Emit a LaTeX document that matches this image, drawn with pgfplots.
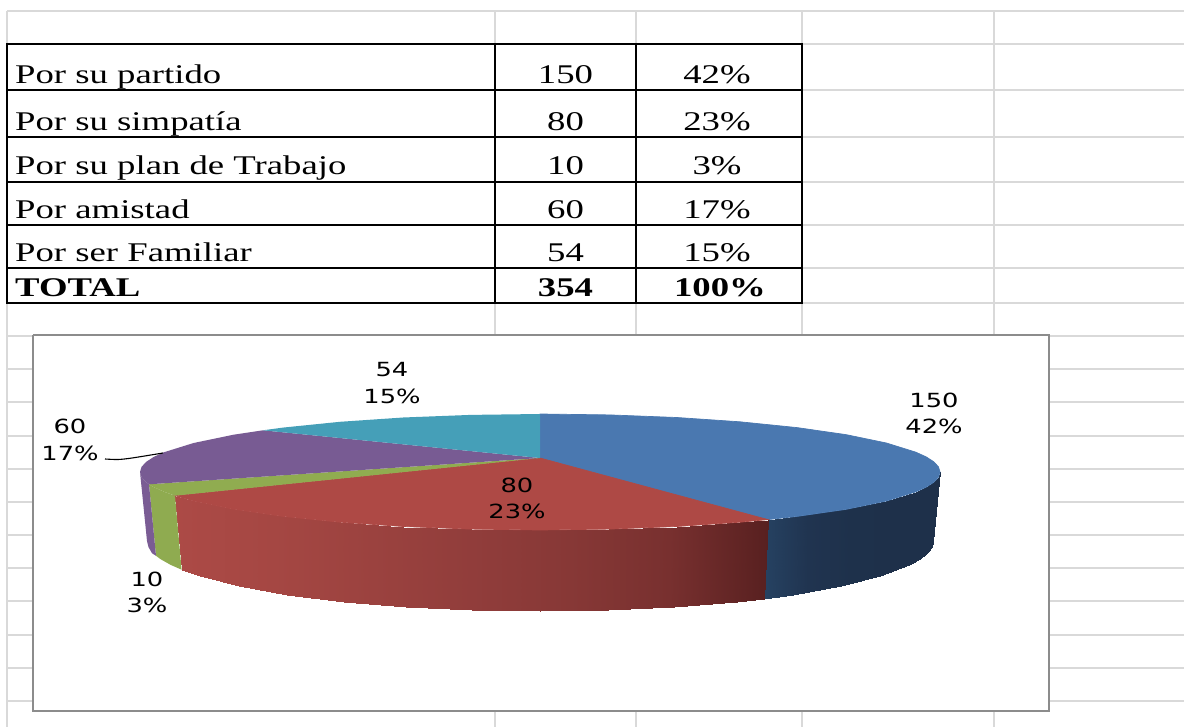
\documentclass[border=0pt]{standalone}
\usepackage{pgfplots}
\pgfplotsset{compat=1.18}
\usepackage{fontspec}
\setmainfont{Liberation Serif}
\newfontfamily\tabfont[FakeStretch=1.36]{Liberation Serif}
\newfontfamily\lblfont[FakeStretch=1.32]{DejaVu Sans}
\definecolor{gridc}{HTML}{D9D9D9}
\definecolor{frameC}{HTML}{8C8C8C}
\definecolor{cBlue}{HTML}{4A78B0}
\definecolor{cRed}{HTML}{AE4945}
\definecolor{cGreen}{HTML}{90AC50}
\definecolor{cPurple}{HTML}{785B93}
\definecolor{cTeal}{HTML}{459FB8}
\definecolor{sGreen}{HTML}{8FAB50}
\definecolor{sPurple}{HTML}{7A5C94}
\pgfplotsset{
  colormap={redside}{rgb255=(172,74,70) rgb255=(165,71,67) rgb255=(155,66,63) rgb255=(145,61,59) rgb255=(135,56,54) rgb255=(120,48,47) rgb255=(88,32,32)},
  colormap={blueside}{rgb255=(38,66,98) rgb255=(32,52,80) rgb255=(30,49,75) rgb255=(30,48,74) rgb255=(30,48,74)},
}
\newcommand\hl[3]{\addplot[gridc,line width=2.4pt] coordinates {(#1,#3) (#2,#3)};}
\newcommand\vl[3]{\addplot[gridc,line width=2.4pt] coordinates {(#3,#1) (#3,#2)};}
\newcommand\bh[3]{\addplot[black,line width=2.4pt] coordinates {(#1,#3) (#2,#3)};}
\newcommand\bv[3]{\addplot[black,line width=2.4pt] coordinates {(#3,#1) (#3,#2)};}
\newcommand\tb[3]{\node[anchor=base west,inner sep=0pt,font=\tabfont\fontsize{27}{30}\selectfont] at (axis cs:#1,#2) {#3};}
\newcommand\tc[3]{\node[anchor=base,inner sep=0pt,font=\tabfont\fontsize{27}{30}\selectfont] at (axis cs:#1,#2) {#3};}
\newcommand\lb[3]{\node[anchor=base,inner sep=0pt,font=\lblfont\fontsize{19.5}{22}\selectfont] at (axis cs:#1,#2) {#3};}
\begin{document}
\begin{tikzpicture}
\begin{axis}[
  scale only axis, width=1184pt, height=727pt,
  xmin=0, xmax=1184, ymin=0, ymax=727, y dir=reverse,
  axis lines=none, clip=true,
]
% page
\addplot[fill=white,draw=none] coordinates {(0,0) (1184,0) (1184,727) (0,727) (0,0)};
% spreadsheet grid
\hl{7}{1184}{11}
\hl{802}{1184}{44} \hl{802}{1184}{90} \hl{802}{1184}{137} \hl{802}{1184}{182} \hl{802}{1184}{225} \hl{802}{1184}{268} \hl{802}{1184}{303}
\hl{7}{1184}{336} \hl{7}{1184}{369} \hl{7}{1184}{402} \hl{7}{1184}{436} \hl{7}{1184}{469} \hl{7}{1184}{502} \hl{7}{1184}{535} \hl{7}{1184}{568} \hl{7}{1184}{601} \hl{7}{1184}{635} \hl{7}{1184}{668} \hl{7}{1184}{701}
\vl{11}{727}{7} \vl{11}{727}{495} \vl{11}{727}{636} \vl{11}{727}{802} \vl{11}{727}{994}
% table rules
\bh{7}{802}{44} \bh{7}{802}{90} \bh{7}{802}{137} \bh{7}{802}{182} \bh{7}{802}{225} \bh{7}{802}{268} \bh{7}{802}{303}
\bv{43}{304}{7} \bv{43}{304}{495} \bv{43}{304}{636} \bv{43}{304}{802}
% chart frame
\addplot[fill=white,draw=frameC,line width=2.2pt] coordinates {(33,335) (1049,335) (1049,711) (33,711) (33,335)};
% side faces
\addplot[surf,shader=interp,colormap name=blueside,point meta=x,point meta rel=per plot,mesh/rows=2] table {
x y
940 472
938.5 477.1
933.9 482.1
926.4 487
915.9 491.8
886.4 501
846.4 509.3
797.1 516.4
768 519.6
933 541
931.5 547.1
927 553.2
919.6 559.1
909.3 564.9
880.3 576
841 586
792.6 594.6
763.6 598.6
};
\addplot[surf,shader=interp,colormap name=redside,point meta=x,point meta rel=per plot,mesh/rows=2] table {
x y
768 519.6
740 522.2
676.8 526.5
609.4 529.1
540 530
470.6 529.1
403.2 526.5
340 522.2
282.9 516.4
233.6 509.3
193.6 501
175 495.7
763.6 598.6
736.5 601.6
674.4 606.8
608.2 609.9
540 611
471.8 609.9
405.6 606.8
343.5 601.6
287.4 594.6
239 586
199.7 576
181.6 569.7
};
\addplot[fill=sGreen,draw=none] coordinates {(175,495.7) (164.1,491.8) (153.6,487) (149,484.3) (156,555.8) (160.4,559.1) (170.7,564.9) (181.6,569.7) (175,495.7)};
\addplot[fill=sPurple,draw=none] coordinates {(149,484.3) (146.1,482.1) (141.5,477.1) (140,472) (147,541) (148.5,547.1) (152,553.2) (156,555.8) (149,484.3)};
% top faces
\addplot[fill=cBlue,draw=cBlue,line width=0.7pt] coordinates {(540,458) (540,414) (609.4,414.9) (676.8,417.5) (740,421.8) (797.1,427.6) (846.4,434.7) (886.4,443) (915.9,452.2) (926.4,457) (933.9,461.9) (938.5,466.9) (940,472) (938.5,477.1) (933.9,482.1) (926.4,487) (915.9,491.8) (886.4,501) (846.4,509.3) (797.1,516.4) (768,519.6) (540,458)};
\addplot[fill=cRed,draw=cRed,line width=0.7pt] coordinates {(540,458) (768,519.6) (740,522.2) (676.8,526.5) (609.4,529.1) (540,530) (470.6,529.1) (403.2,526.5) (340,522.2) (282.9,516.4) (233.6,509.3) (193.6,501) (175,495.7) (540,458)};
\addplot[fill=cGreen,draw=none] coordinates {(540,458) (175,495.7) (164.1,491.8) (153.6,487) (149,484.3) (540,458)};
\addplot[fill=cPurple,draw=none] coordinates {(540,458) (149,484.3) (146.1,482.1) (141.5,477.1) (140,472) (141.5,466.9) (146.1,461.9) (153.6,457) (164.1,452.2) (193.6,443) (233.6,434.7) (263,430.3) (540,458)};
\addplot[fill=cTeal,draw=none] coordinates {(540,458) (263,430.3) (282.9,427.6) (340,421.8) (403.2,417.5) (470.6,414.9) (540,414) (540,458)};
% leader
\addplot[black,line width=1.1pt,smooth] coordinates {(105,459) (118,459.5) (132,458) (163,453)};
% table text
\tb{15}{84}{Por su partido}     \tc{565.5}{84}{150}   \tc{717}{84}{42\%}
\tb{15}{131}{Por su simpatía}   \tc{565.5}{131}{80}   \tc{717}{131}{23\%}
\tb{15}{175}{Por su plan de Trabajo} \tc{565.5}{175}{10} \tc{717}{175}{3\%}
\tb{15}{219}{Por amistad}       \tc{565.5}{219}{60}   \tc{717}{219}{17\%}
\tb{15}{262}{Por ser Familiar}  \tc{565.5}{262}{54}   \tc{717}{262}{15\%}
\tb{15}{297}{\bfseries TOTAL}   \tc{565.5}{297}{\bfseries 354} \tc{720}{297}{\bfseries 100\%}
% data labels
\lb{392}{377}{54}  \lb{392}{403}{15\%}
\lb{934}{407}{150} \lb{934}{433}{42\%}
\lb{517}{492}{80}  \lb{517}{518}{23\%}
\lb{70}{433}{60}   \lb{70}{460}{17\%}
\lb{147}{586}{10}  \lb{147}{612}{3\%}
\end{axis}
\end{tikzpicture}
\end{document}
